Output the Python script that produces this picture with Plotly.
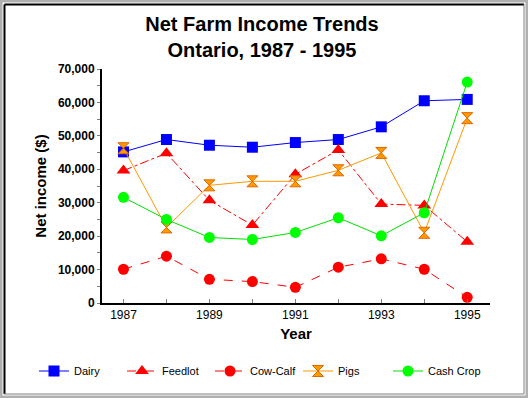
import plotly.graph_objects as go

years = [1987, 1988, 1989, 1990, 1991, 1992, 1993, 1994, 1995]
dairy = [45200, 48900, 47200, 46600, 48000, 48900, 52700, 60500, 60900]
feedlot = [39600, 44800, 30700, 23300, 38500, 45800, 29600, 29200, 18300]
cow_calf = [10100, 14000, 7100, 6400, 4700, 10700, 13200, 10100, 1700]
pigs = [46300, 22600, 35200, 36400, 36400, 39700, 44900, 21000, 55300]
cash_crop = [31600, 25000, 19600, 19000, 21100, 25500, 20100, 27000, 66100]
x_tick_text = ["1987", "", "1989", "", "1991", "", "1993", "", "1995"]

W, H = 528, 398
L, R, T, B = 102, 38, 69, 95
pw, ph = W - L - R, H - T - B

def px(x):
    return (x - L) / pw

def py(y):
    return (H - B - y) / ph

fig = go.Figure()
fig.add_trace(go.Scatter(x=years, y=dairy, name="Dairy", mode="lines+markers",
                         line=dict(color="#0000FF", width=1),
                         marker=dict(symbol="square", size=11, color="#0000FF")))
fig.add_trace(go.Scatter(x=years, y=feedlot, name="Feedlot", mode="lines+markers",
                         line=dict(color="#FF0000", width=1, dash="dashdot"),
                         marker=dict(symbol="triangle-up", size=12, color="#FF0000")))
fig.add_trace(go.Scatter(x=years, y=cow_calf, name="Cow-Calf", mode="lines+markers",
                         line=dict(color="#FF0000", width=1, dash="dash"),
                         marker=dict(symbol="circle", size=11, color="#FF0000")))
fig.add_trace(go.Scatter(x=years, y=pigs, name="Pigs", mode="lines+markers",
                         line=dict(color="#FF9900", width=1),
                         marker=dict(symbol="hourglass", size=11, color="#FF9900",
                                     line=dict(color="#E06800", width=1))))
fig.add_trace(go.Scatter(x=years, y=cash_crop, name="Cash Crop", mode="lines+markers",
                         line=dict(color="#00E000", width=1), legend="legend2",
                         marker=dict(symbol="circle", size=11, color="#00FF00")))

shapes = []
# window frame
shapes.append(dict(type="rect", xref="paper", yref="paper",
                   x0=px(1), x1=px(W - 1), y0=py(H - 1), y1=py(1),
                   line=dict(color="#B0B0B0", width=3)))
shapes.append(dict(type="line", xref="paper", yref="paper",
                   x0=px(4.5), x1=px(W - 4), y0=py(4.5), y1=py(4.5),
                   line=dict(color="#000000", width=2)))
shapes.append(dict(type="line", xref="paper", yref="paper",
                   x0=px(4.5), x1=px(4.5), y0=py(4.5), y1=py(H - 4),
                   line=dict(color="#000000", width=2)))
shapes.append(dict(type="line", xref="paper", yref="paper",
                   x0=px(4), x1=px(W - 4), y0=py(H - 4), y1=py(H - 4),
                   line=dict(color="#808080", width=1)))
shapes.append(dict(type="line", xref="paper", yref="paper",
                   x0=px(W - 4), x1=px(W - 4), y0=py(4), y1=py(H - 4),
                   line=dict(color="#808080", width=1)))

legend_common = dict(orientation="h", xanchor="left", y=py(371), yanchor="middle",
                     font=dict(size=11, color="black"),
                     bgcolor="rgba(0,0,0,0)", borderwidth=0, tracegroupgap=0)

fig.update_layout(
    width=W, height=H,
    margin=dict(l=L, r=R, t=T, b=B, autoexpand=False),
    paper_bgcolor="white", plot_bgcolor="white",
    font=dict(family="Liberation Sans, Arial, sans-serif", color="black"),
    title=dict(text="<b>Net Farm Income Trends<br>Ontario, 1987 - 1995</b>",
               x=px(262), xref="paper", xanchor="center",
               y=1 - 31 / H, yanchor="middle",
               font=dict(size=20, color="black")),
    showlegend=True,
    legend=dict(x=px(34), entrywidth=43, entrywidthmode="pixels", **legend_common),
    legend2=dict(x=px(388), **legend_common),
    shapes=shapes,
)

fig.update_xaxes(range=[1986.5, 1995.53], tickmode="array", tickvals=years, ticktext=x_tick_text,
                 ticks="inside", ticklen=4, tickcolor="#808080", tickwidth=1,
                 showline=True, linecolor="black", linewidth=2, showgrid=False, zeroline=False,
                 tickfont=dict(size=12, color="black", family="Liberation Sans, Arial, sans-serif"),
                 title=dict(text="<b>Year</b>", font=dict(size=15), standoff=7))
fig.update_yaxes(range=[0, 70000], dtick=10000, tickformat=",d",
                 ticks="outside", ticklen=3, tickcolor="#808080", tickwidth=1,
                 minor=dict(dtick=5000, ticks="outside", ticklen=3, tickcolor="#808080", showgrid=False),
                 showline=True, linecolor="black", linewidth=2, showgrid=False, zeroline=False,
                 tickfont=dict(size=12, color="black", family="Liberation Sans, Arial, sans-serif"),
                 title=dict(text="<b>Net income ($)</b>", font=dict(size=15), standoff=8))

fig.update_layout(xaxis_tickprefix="<b>", xaxis_ticksuffix="</b>",
                  yaxis_tickprefix="<b>", yaxis_ticksuffix="</b>")

fig.write_html("out.html", config={"displayModeBar": False},
               post_script="document.body.style.margin='0';document.body.style.overflow='hidden';")
